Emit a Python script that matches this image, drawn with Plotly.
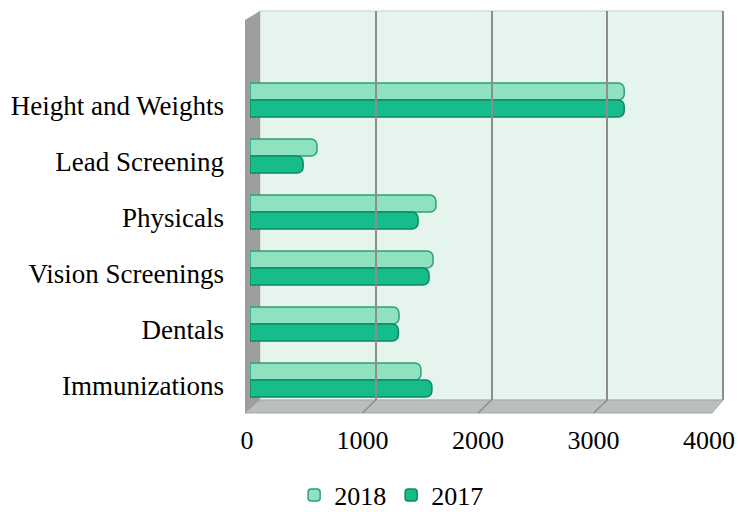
import plotly.graph_objects as go

categories = ["Height and Weights", "Lead Screening", "Physicals",
              "Vision Screenings", "Dentals", "Immunizations"]
values_2018 = [3240, 580, 1610, 1585, 1290, 1480]
values_2017 = [3240, 460, 1455, 1550, 1285, 1575]
x_ticks = [0, 1000, 2000, 3000, 4000]

W, H = 738, 512
FONT = "Liberation Serif, Times New Roman, serif"


def px(x):
    return x / W


def py(y):
    return 1 - y / H


fig = go.Figure()
fig.add_trace(go.Bar(
    y=categories, x=values_2018, orientation="h", name="2018",
    marker=dict(color="#8fe2c0", line=dict(color="#2f9e76", width=1.5)),
))
fig.add_trace(go.Bar(
    y=categories, x=values_2017, orientation="h", name="2017",
    marker=dict(color="#16bd8b", line=dict(color="#0b8a62", width=1.5)),
))
# empty trace so that the back-wall grid subplot is rendered
fig.add_trace(go.Scatter(x=[], y=[], xaxis="x2", yaxis="y2",
                         showlegend=False, hoverinfo="skip"))

# 3-D box decoration: back wall, side wall and floor
shapes = [
    dict(type="rect", xref="paper", yref="paper", layer="below",
         x0=px(260), x1=px(723), y0=py(400), y1=py(11),
         fillcolor="#e5f5ee", line=dict(color="#c9cccb", width=1)),
    dict(type="line", xref="paper", yref="paper", layer="below",
         x0=px(723), x1=px(723), y0=py(400), y1=py(11),
         line=dict(color="#8d8d8d", width=2)),
    dict(type="path", xref="paper", yref="paper", layer="below",
         path=f"M {px(245)},{py(20)} L {px(260)},{py(11)} L {px(260)},{py(400)} L {px(245)},{py(413)} Z",
         fillcolor="#9c9f9e", line=dict(width=0)),
    dict(type="path", xref="paper", yref="paper", layer="below",
         path=f"M {px(245)},{py(413)} L {px(260)},{py(400)} L {px(723)},{py(400)} L {px(712)},{py(413)} Z",
         fillcolor="#b9bfbc", line=dict(color="#a3a8a6", width=1)),
]
for t in x_ticks[1:-1]:
    xb = 260 + (723 - 260) * t / 4000
    xf = 247 + (709 - 247) * t / 4000
    shapes.append(dict(type="line", xref="paper", yref="paper", layer="below",
                       x0=px(xb), y0=py(400), x1=px(xf), y1=py(413),
                       line=dict(color="#8d8d8d", width=1.5)))

fig.update_layout(
    width=W, height=H,
    margin=dict(l=0, r=0, t=0, b=0, autoexpand=False),
    paper_bgcolor="white",
    plot_bgcolor="rgba(0,0,0,0)",
    font=dict(family=FONT, size=26, color="black"),
    barmode="group",
    bargap=0.39,
    bargroupgap=0,
    barcornerradius=6,
    shapes=shapes,
    showlegend=True,
    legend=dict(orientation="h", x=0.53, xanchor="center",
                y=py(495), yanchor="middle",
                font=dict(family=FONT, size=26), traceorder="normal",
                itemwidth=30),
    xaxis=dict(domain=[px(250), px(712)], range=[0, 4000], tickvals=x_ticks,
               showgrid=False, zeroline=False, showline=False, ticks="",
               automargin=False,
               ticklabelstandoff=14, ticklabelshift=-3,
               tickfont=dict(family=FONT, size=26)),
    yaxis=dict(domain=[py(408), py(72)], type="category", autorange="reversed",
               showgrid=False, zeroline=False, showline=False, ticks="",
               automargin=False,
               ticklabelstandoff=25, ticklabelshift=-6,
               tickfont=dict(family=FONT, size=27)),
    xaxis2=dict(domain=[px(260), px(723)], range=[0, 4000], anchor="y2",
                tickvals=x_ticks, showticklabels=False, showgrid=True,
                gridcolor="#8d8d8d", gridwidth=2, zeroline=False, showline=False,
                automargin=False),
    yaxis2=dict(domain=[py(400), py(11)], anchor="x2", range=[0, 1],
                showticklabels=False, showgrid=False, zeroline=False, showline=False,
                automargin=False),
)

fig.write_html(
    "out.html",
    config={"displayModeBar": False},
    post_script="document.body.style.margin='0';document.body.style.overflow='hidden';",
)
